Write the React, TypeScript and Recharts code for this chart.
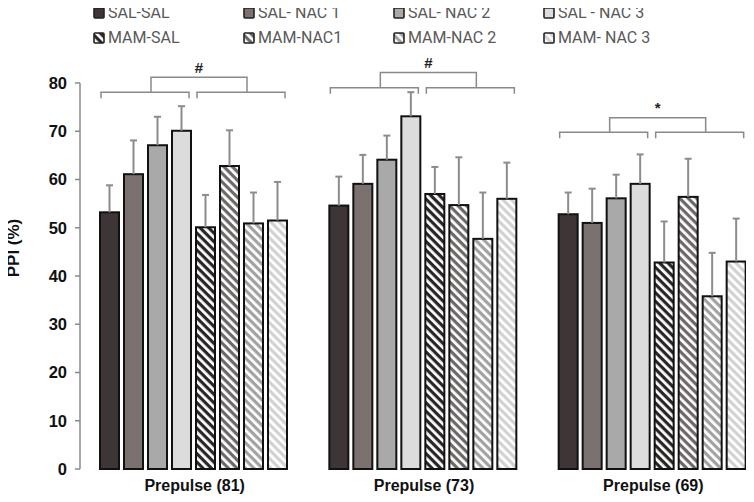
import React from "react";
import { BarChart, Bar, XAxis, YAxis } from "recharts";

const categories = ["Prepulse (81)", "Prepulse (73)", "Prepulse (69)"];
const groups = [
  "SAL-SAL",
  "SAL- NAC 1",
  "SAL- NAC 2",
  "SAL - NAC 3",
  "MAM-SAL",
  "MAM-NAC1",
  "MAM-NAC 2",
  "MAM- NAC 3",
];
const yTicks = [0, 10, 20, 30, 40, 50, 60, 70, 80];

// mean PPI per group, one array per prepulse
const mean81 = [53.2, 61.1, 67.1, 70.1, 50.1, 62.8, 50.9, 51.5];
const mean73 = [54.6, 59.1, 64.1, 73.1, 57.0, 54.7, 47.7, 56.0];
const mean69 = [52.8, 51.0, 56.1, 59.1, 42.8, 56.4, 35.8, 43.0];

// upper error (SEM)
const err81 = [5.6, 7.0, 5.9, 5.1, 6.7, 7.4, 6.4, 8.0];
const err73 = [6.0, 6.0, 5.0, 5.0, 5.6, 9.9, 9.6, 7.5];
const err69 = [4.5, 7.1, 4.9, 6.1, 8.5, 7.9, 9.0, 8.9];

// significance brackets per prepulse
const bracketLow = [78.1, 79.0, 69.8];
const bracketHigh = [81.2, 82.2, 72.8];
const bracketMark = ["#", "#", "*"];

const means = [mean81, mean73, mean69];
const errs = [err81, err73, err69];

const data = categories.map((name, i) => {
  const row: any = { name };
  groups.forEach((_, g) => {
    row[`s${g}`] = means[i][g];
    row[`e${g}`] = errs[i][g];
  });
  return row;
});

const solid = ["#3e3636", "#7b7270", "#a9a9a9", "#dcdcdc"];
const stripe = ["#2a2626", "#6e6868", "#a2a2a2", "#d2d2d2"];
const fills = [
  ...solid,
  "url(#hatch0)",
  "url(#hatch1)",
  "url(#hatch2)",
  "url(#hatch3)",
];

const BAR_GAP = 5;
const ARIAL = "Liberation Sans, Arial, sans-serif";

const makeShape = (si: number) => (p: any) => {
  const { x, y, width, height, payload, index } = p;
  const v = payload[`s${si}`];
  const e = payload[`e${si}`];
  const ppu = height / v;
  const base = y + height;
  const yOf = (val: number) => base - val * ppu;
  const cx = x + width / 2;
  const top = yOf(v + e);

  let brackets = null;
  if (si === 0) {
    const step = width + BAR_GAP;
    const l0 = x + 1;
    const l1 = x + 3 * step + width - 2;
    const r0 = x + 4 * step + 1;
    const r1 = x + 7 * step + width - 2;
    const yl = yOf(bracketLow[index]);
    const yh = yOf(bracketHigh[index]);
    const lm = (l0 + l1) / 2 + 6;
    const rm = (r0 + r1) / 2 + 6;
    const st = { stroke: "#8a8a8a", strokeWidth: 1.5, fill: "none" };
    brackets = (
      <g>
        <path d={`M${l0},${yl + 6}V${yl}H${l1}V${yl + 6}`} {...st} />
        <path d={`M${r0},${yl + 6}V${yl}H${r1}V${yl + 6}`} {...st} />
        <path d={`M${lm},${yl}V${yh}H${rm}V${yl}`} {...st} />
        <text
          x={(lm + rm) / 2}
          y={yh - 10}
          textAnchor="middle"
          dominantBaseline="central"
          fontFamily={ARIAL}
          fontWeight="bold"
          fontSize={15}
          fill="#222"
        >
          {bracketMark[index]}
        </text>
      </g>
    );
  }

  return (
    <g>
      <rect
        x={x}
        y={y}
        width={width}
        height={height}
        fill={fills[si]}
        stroke="#111"
        strokeWidth={2}
      />
      <line x1={cx} y1={y} x2={cx} y2={top} stroke="#8c8c8c" strokeWidth={2} />
      <line x1={cx - 3.5} y1={top} x2={cx + 3.5} y2={top} stroke="#8c8c8c" strokeWidth={2} />
      {brackets}
    </g>
  );
};

const YLabel = (props: any) => {
  const { viewBox } = props;
  const cx = viewBox.x + 13;
  const cy = 248;
  return (
    <text
      x={cx}
      y={cy}
      transform={`rotate(-90, ${cx}, ${cy})`}
      textAnchor="middle"
      dominantBaseline="central"
      fontFamily={ARIAL}
      fontWeight="bold"
      fontSize={17}
      fill="#111"
    >
      PPI (%)
    </text>
  );
};

const LegendBox = ({ i }: { i: number }) => (
  <svg width={12} height={12} style={{ display: "block", marginRight: 3 }}>
    <rect x={1} y={1} width={10} height={10} fill={fills[i]} stroke="#222" strokeWidth={1.6} rx={1} />
  </svg>
);

export default function App() {
  return (
    <div
      style={{
        position: "relative",
        width: 754,
        height: 502,
        overflow: "hidden",
        margin: -8,
        background: "#fff",
      }}
    >
      <div
        style={{
          position: "absolute",
          left: 93,
          top: 0,
          display: "grid",
          gridTemplateColumns: "150px 150px 150px 150px",
          gridAutoRows: "25px",
          fontFamily: "Roboto, 'Open Sans', sans-serif",
          fontSize: 16,
          lineHeight: "20px",
          color: "#595959",
          zIndex: 2,
        }}
      >
        {groups.map((g, i) => (
          <div key={g} style={{ display: "flex", alignItems: "center", whiteSpace: "nowrap" }}>
            <LegendBox i={i} />
            {g}
          </div>
        ))}
      </div>
      <BarChart
        width={768}
        height={502}
        data={data}
        margin={{ top: 83, right: 0, bottom: 0, left: 0 }}
        barCategoryGap={20}
        barGap={BAR_GAP}
      >
        <defs>
          {stripe.map((c, i) => (
            <pattern
              key={i}
              id={`hatch${i}`}
              patternUnits="userSpaceOnUse"
              width={6}
              height={6}
              patternTransform="rotate(45)"
            >
              <rect width={6} height={6} fill="#fff" />
              <rect width={6} height={3.2} fill={c} />
            </pattern>
          ))}
        </defs>
        <XAxis
          dataKey="name"
          axisLine={false}
          tickLine={false}
          height={33}
          tickMargin={5}
          tick={{
            fontFamily: ARIAL,
            fontWeight: "bold",
            fontSize: 16,
            fill: "#111",
          }}
        />
        <YAxis
          width={80}
          domain={[0, 80]}
          ticks={yTicks}
          interval={0}
          axisLine={{ stroke: "#8a8a8a", strokeWidth: 1.5 }}
          tickLine={{ stroke: "#8a8a8a", strokeWidth: 1.5 }}
          tickSize={5}
          tickMargin={8}
          tick={{
            fontFamily: ARIAL,
            fontWeight: "bold",
            fontSize: 16.5,
            fill: "#111",
          }}
          label={<YLabel />}
        />
        {groups.map((g, si) => (
          <Bar
            key={g}
            dataKey={`s${si}`}
            name={g}
            fill={fills[si]}
            shape={makeShape(si)}
            isAnimationActive={false}
          />
        ))}
      </BarChart>
    </div>
  );
}
